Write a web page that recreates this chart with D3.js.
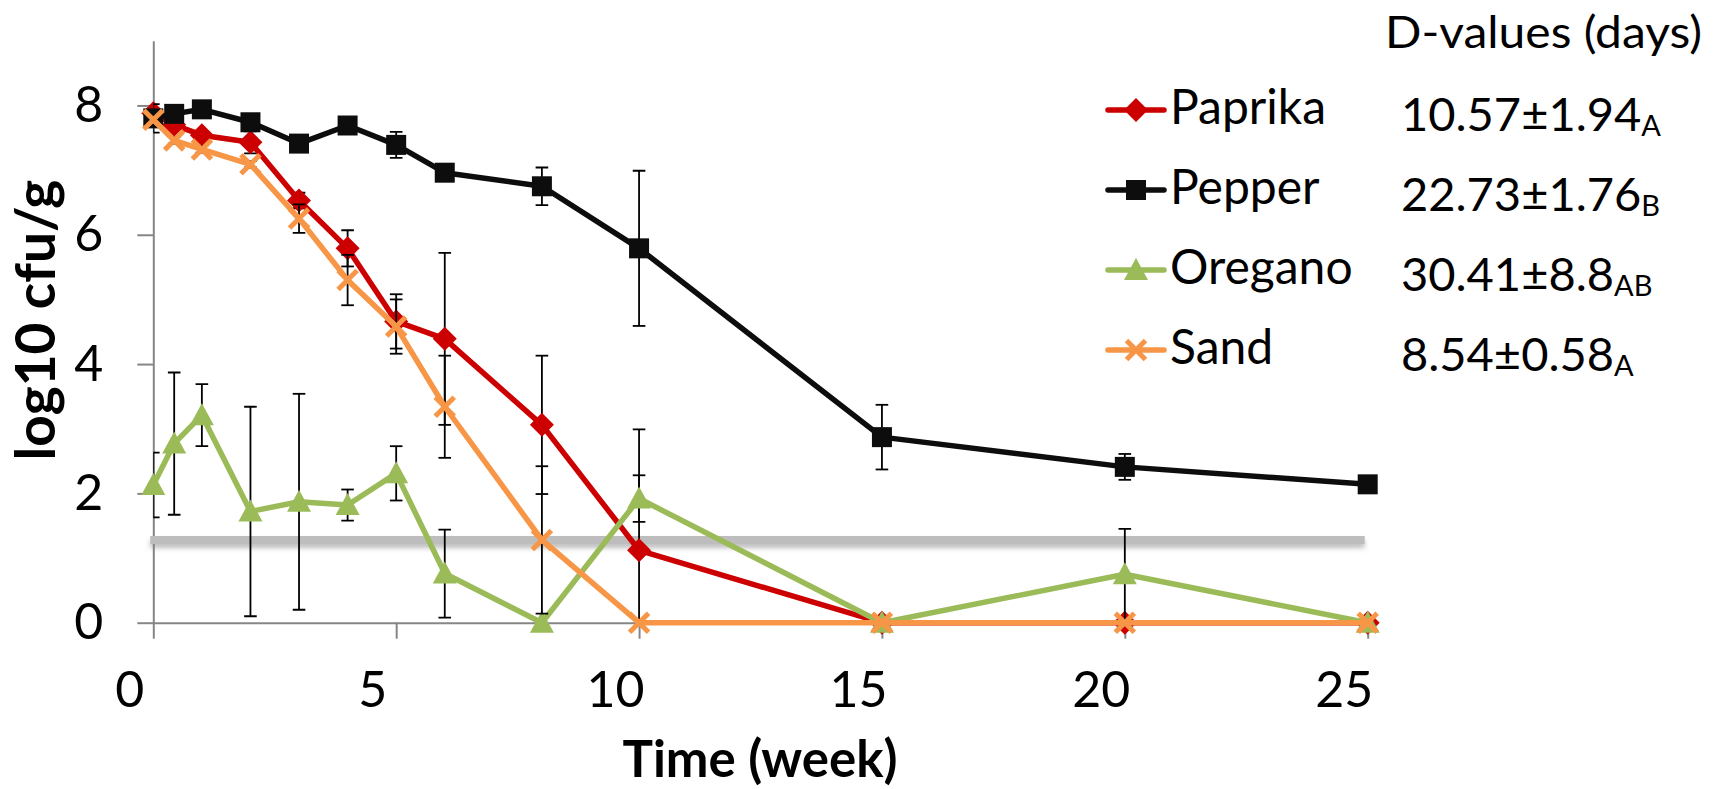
<!DOCTYPE html>
<html>
<head>
<meta charset="utf-8">
<script src="https://cdn.jsdelivr.net/npm/d3@7/dist/d3.min.js"></script>
<style>
  html, body { margin: 0; padding: 0; background: #ffffff; }
  svg { display: block; }
  text { font-family: "Lato", "Noto Sans", sans-serif; fill: #000; }
</style>
</head>
<body>
<svg id="chart" width="1733" height="789"></svg>
<script>
// ---------- data ----------
const weeks      = [0, 0.43, 1, 2, 3, 4, 5, 6, 8, 10, 15, 20, 25];
const paprika    = [7.88, 7.70, 7.54, 7.43, 6.53, 5.79, 4.66, 4.39, 3.06, 1.12, 0, 0, 0];
const paprikaErr = [0.05, 0.05, 0.05, 0.17, 0.12, 0.28, 0.42, 1.33, 1.07, 1.87, 0, 0, 0];
const pepper     = [7.80, 7.87, 7.94, 7.74, 7.41, 7.69, 7.39, 6.96, 6.75, 5.79, 2.87, 2.41, 2.14];
const pepperErr  = [0.22, 0.05, 0.05, 0.05, 0.05, 0.05, 0.20, 0.05, 0.29, 1.20, 0.50, 0.20, 0.05];
const oregano    = [2.13, 2.77, 3.21, 1.72, 1.87, 1.82, 2.31, 0.76, 0, 1.92, 0, 0.75, 0];
const oreganoErr = [0.50, 1.10, 0.48, 1.62, 1.67, 0.24, 0.42, 0.68, 0, 0.36, 0, 0.70, 0];
const sand       = [7.78, 7.46, 7.32, 7.09, 6.25, 5.30, 4.58, 3.34, 1.28, 0, 0, 0, 0];
const sandErr    = [0.05, 0.05, 0.05, 0.05, 0.22, 0.39, 0.42, 0.79, 1.14, 0, 0, 0, 0];

const seriesNames = ["Paprika", "Pepper", "Oregano", "Sand"];
const dValues     = ["10.57±1.94", "22.73±1.76", "30.41±8.8", "8.54±0.58"];
const dLetters    = ["A", "B", "AB", "A"];
const detectionLimit = 1.28;

const xTicks = [0, 5, 10, 15, 20, 25];
const yTicks = [0, 2, 4, 6, 8];

// ---------- layout ----------
const svg = d3.select("#chart");
const X0 = 153.3, X1 = 1367.7, Y0 = 622.7, Y1 = 40.8;
const x = d3.scaleLinear().domain([0, 25]).range([X0, X1]);
const y = d3.scaleLinear().domain([0, 9]).range([Y0, Y1]);

const series = [
  { name: seriesNames[0], vals: paprika, err: paprikaErr, color: "#cc0000", marker: "diamond" },
  { name: seriesNames[1], vals: pepper,  err: pepperErr,  color: "#0d0d0d", marker: "square" },
  { name: seriesNames[2], vals: oregano, err: oreganoErr, color: "#9bbb59", marker: "triangle" },
  { name: seriesNames[3], vals: sand,    err: sandErr,    color: "#f79646", marker: "x" }
];

const defs = svg.append("defs");
defs.append("clipPath").attr("id", "plotclip")
  .append("rect").attr("x", X0).attr("y", Y1).attr("width", X1 - X0 + 20).attr("height", Y0 - Y1);
const f = defs.append("filter").attr("id", "shadow").attr("filterUnits", "userSpaceOnUse")
  .attr("x", 0).attr("y", 0).attr("width", 1733).attr("height", 789);
f.append("feDropShadow").attr("dx", 0).attr("dy", 4).attr("stdDeviation", 2.5)
  .attr("flood-color", "#7f7f7f").attr("flood-opacity", 0.5);

// ---------- axes ----------
const axisColor = "#868686";
const yAxis = svg.append("g").attr("transform", `translate(${X0},0)`)
  .call(d3.axisLeft(y).tickValues(yTicks).tickSize(16).tickSizeOuter(0).tickPadding(34).tickFormat(d3.format("d")));
const xAxis = svg.append("g").attr("transform", `translate(0,${Y0})`)
  .call(d3.axisBottom(x).tickValues(xTicks).tickSize(16).tickSizeOuter(0).tickPadding(33).tickFormat(d3.format("d")));
[yAxis, xAxis].forEach(g => {
  g.select(".domain").attr("stroke", axisColor).attr("stroke-width", 2);
  g.selectAll(".tick line").attr("stroke", axisColor).attr("stroke-width", 2);
  g.selectAll(".tick text").attr("font-family", "Lato").attr("font-size", 50).attr("fill", "#000");
});
xAxis.selectAll(".tick text").attr("dx", -24);

// axis titles
svg.append("text").attr("x", 760).attr("y", 777).attr("text-anchor", "middle")
  .attr("font-size", 51).attr("font-weight", "bold").text("Time (week)");
svg.append("text").attr("transform", `translate(55,320) rotate(-90)`).attr("text-anchor", "middle")
  .attr("font-size", 55).attr("font-weight", "bold").text("log10 cfu/g");

// ---------- detection limit ----------
svg.append("line")
  .attr("x1", x(0) - 3).attr("x2", x(25) - 3)
  .attr("y1", y(detectionLimit)).attr("y2", y(detectionLimit))
  .attr("stroke", "#bdbdbd").attr("stroke-width", 8).attr("filter", "url(#shadow)");

// ---------- markers ----------
function markerPath(type) {
  switch (type) {
    case "diamond":  return "M0,-12L12,0L0,12L-12,0Z";
    case "square":   return "M-10,-10H10V10H-10Z";
    case "triangle": return "M0,-12L12,10L-12,10Z";
    default:         return "M-9.5,-9.5L9.5,9.5M-9.5,9.5L9.5,-9.5";
  }
}
function drawMarker(g, type, color, cx, cy) {
  const p = g.append("path").attr("d", markerPath(type)).attr("transform", `translate(${cx},${cy})`);
  if (type === "x") p.attr("fill", "none").attr("stroke", color).attr("stroke-width", 5);
  else p.attr("fill", color).attr("stroke", "none");
}

const line = d3.line().x(d => x(d[0])).y(d => y(d[1]));

series.forEach(s => {
  const g = svg.append("g");
  const pts = weeks.map((w, i) => [w, s.vals[i], s.err[i]]);
  // error bars
  const eb = g.append("g").attr("clip-path", "url(#plotclip)")
    .attr("stroke", "#000").attr("stroke-width", 1.8).attr("fill", "none");
  pts.filter(d => d[2] > 0).forEach(d => {
    const cx = x(d[0]), yt = y(d[1] + d[2]), yb = y(d[1] - d[2]);
    eb.append("line").attr("x1", cx).attr("x2", cx).attr("y1", yt).attr("y2", yb);
    eb.append("line").attr("x1", cx - 6.3).attr("x2", cx + 6.3).attr("y1", yt).attr("y2", yt);
    eb.append("line").attr("x1", cx - 6.3).attr("x2", cx + 6.3).attr("y1", yb).attr("y2", yb);
  });
  g.append("path").datum(pts).attr("d", line).attr("fill", "none")
    .attr("stroke", s.color).attr("stroke-width", 5.5).attr("stroke-linejoin", "round");
  pts.forEach(d => drawMarker(g, s.marker, s.color, x(d[0]), y(d[1])));
});

// ---------- legend ----------
svg.append("text").attr("x", 1385).attr("y", 48).attr("font-family", "Liberation Sans")
  .attr("font-size", 45).attr("textLength", 317).attr("lengthAdjust", "spacingAndGlyphs")
  .text("D-values (days)");

series.forEach((s, i) => {
  const ly = 110 + i * 80;
  const g = svg.append("g");
  g.append("line").attr("x1", 1108).attr("x2", 1164).attr("y1", ly).attr("y2", ly)
    .attr("stroke", s.color).attr("stroke-width", 5.5).attr("stroke-linecap", "round");
  drawMarker(g, s.marker, s.color, 1136, ly);
  g.append("text").attr("x", 1170).attr("y", 124 + i * 80).attr("font-size", 48).text(s.name);
  const t = g.append("text").attr("x", 1401).attr("y", 131 + i * 80).attr("font-size", 47);
  t.append("tspan").text(dValues[i]);
  t.append("tspan").attr("font-size", 29).attr("dy", 5).text(dLetters[i]);
});
</script>
</body>
</html>
